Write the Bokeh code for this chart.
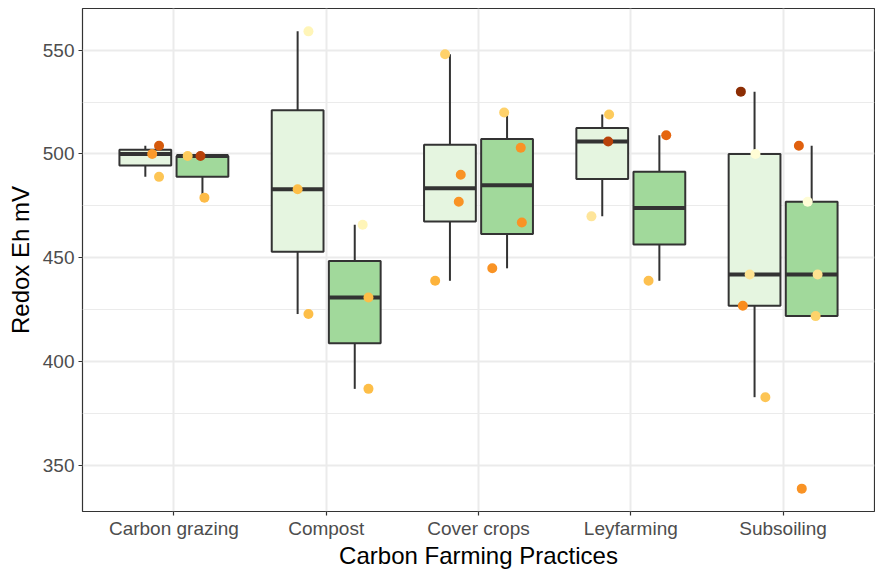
import numpy as np
from bokeh.plotting import figure
from bokeh.models import Range1d, FixedTicker, ColumnDataSource
from bokeh.embed import file_html
from bokeh.resources import INLINE

# ---------------- data ----------------
practices = ["Carbon grazing", "Compost", "Cover crops", "Leyfarming", "Subsoiling"]
groups = ["light", "dark"]

cg_light = [504, 500, 489]
cg_dark = [499, 499, 479]
compost_light = [559, 483, 423]
compost_dark = [466, 431, 387]
cover_light = [548, 490, 477, 439]
cover_dark = [520, 503, 467, 445]
ley_light = [519, 506, 470]
ley_dark = [509, 439]
sub_light = [530, 500, 442, 427, 383]
sub_dark = [504, 477, 442, 422, 339]

# colour of each observation (sequential yellow-orange-brown scale)
cg_light_col = ["#D55A0C", "#FB9A2A", "#FDC555"]
cg_dark_col = ["#FDCB5C", "#B8420A", "#FDBB47"]
compost_light_col = ["#FFF5B8", "#FDBE48", "#FDBE48"]
compost_dark_col = ["#FFF5B8", "#FDBE48", "#FDBE48"]
cover_light_col = ["#FED16A", "#F99325", "#F99325", "#FDB33C"]
cover_dark_col = ["#FED16A", "#F99325", "#F99325", "#F99325"]
ley_light_col = ["#FDCB5C", "#B8420A", "#FEE59A"]
ley_dark_col = ["#E5650F", "#FDC04F"]
sub_light_col = ["#8C2D04", "#FFFDD6", "#FEE391", "#F98C1E", "#FDC555"]
sub_dark_col = ["#E0600E", "#FFFDD6", "#FEE391", "#FDD36B", "#F99325"]

# horizontal jitter of each observation (category units)
cg_light_jit = [0.09, 0.045, 0.09]
cg_dark_jit = [-0.097, -0.013, 0.013]
compost_light_jit = [0.071, 0.0, 0.071]
compost_dark_jit = [0.052, 0.09, 0.09]
cover_light_jit = [-0.032, 0.071, 0.058, -0.097]
cover_dark_jit = [-0.019, 0.09, 0.097, -0.097]
ley_light_jit = [0.045, 0.039, -0.071]
ley_dark_jit = [0.045, -0.071]
sub_light_jit = [-0.09, 0.006, -0.032, -0.077, 0.071]
sub_dark_jit = [-0.084, -0.026, 0.039, 0.026, -0.065]

values = {
    ("Carbon grazing", "light"): (cg_light, cg_light_col, cg_light_jit),
    ("Carbon grazing", "dark"): (cg_dark, cg_dark_col, cg_dark_jit),
    ("Compost", "light"): (compost_light, compost_light_col, compost_light_jit),
    ("Compost", "dark"): (compost_dark, compost_dark_col, compost_dark_jit),
    ("Cover crops", "light"): (cover_light, cover_light_col, cover_light_jit),
    ("Cover crops", "dark"): (cover_dark, cover_dark_col, cover_dark_jit),
    ("Leyfarming", "light"): (ley_light, ley_light_col, ley_light_jit),
    ("Leyfarming", "dark"): (ley_dark, ley_dark_col, ley_dark_jit),
    ("Subsoiling", "light"): (sub_light, sub_light_col, sub_light_jit),
    ("Subsoiling", "dark"): (sub_dark, sub_dark_col, sub_dark_jit),
}

# ---------------- styles ----------------
box_fill = {"light": "#E5F5E0", "dark": "#A1D99B"}
dodge = {"light": -0.1875, "dark": 0.1875}
box_w = 0.34
ink = "#333333"
grid_col = "#EBEBEB"
FONT = "Liberation Sans"

# ---------------- stats ----------------
bx, bq1, bq3, bmed, blo, bhi, bfill = [], [], [], [], [], [], []
px, py, pc = [], [], []
for i, cat in enumerate(practices, start=1):
    for g in groups:
        v, cols, jit = values[(cat, g)]
        a = np.array(v, dtype=float)
        q1, med, q3 = np.percentile(a, [25, 50, 75])
        iqr = q3 - q1
        lo = a[a >= q1 - 1.5 * iqr].min()
        hi = a[a <= q3 + 1.5 * iqr].max()
        xc = i + dodge[g]
        bx.append(xc); bq1.append(q1); bq3.append(q3); bmed.append(med)
        blo.append(lo); bhi.append(hi); bfill.append(box_fill[g])
        for val, c, j in zip(v, cols, jit):
            px.append(xc + j); py.append(val); pc.append(c)

box_src = ColumnDataSource(dict(x=bx, q1=bq1, q3=bq3, med=bmed, lo=blo, hi=bhi,
                                fill=bfill,
                                x0=[x - box_w / 2 for x in bx],
                                x1=[x + box_w / 2 for x in bx]))
pt_src = ColumnDataSource(dict(x=px, y=py, c=pc))

# ---------------- figure ----------------
p = figure(width=875, height=571, output_backend="svg", toolbar_location=None,
           x_range=Range1d(0.4, 5.6), y_range=Range1d(328, 570),
           min_border_left=82, min_border_right=1, min_border_top=8, min_border_bottom=40)

p.background_fill_color = "white"
p.border_fill_color = "white"
p.outline_line_color = ink
p.outline_line_width = 1.2

# whiskers
p.segment(x0="x", y0="q3", x1="x", y1="hi", source=box_src, line_color=ink, line_width=2)
p.segment(x0="x", y0="q1", x1="x", y1="lo", source=box_src, line_color=ink, line_width=2)
# boxes
p.quad(left="x0", right="x1", bottom="q1", top="q3", source=box_src,
       fill_color="fill", line_color=ink, line_width=2)
# medians
p.segment(x0="x0", y0="med", x1="x1", y1="med", source=box_src, line_color=ink, line_width=4)
# points
p.scatter(x="x", y="y", source=pt_src, size=10, fill_color="c", line_color=None)

# axes
p.xaxis.ticker = FixedTicker(ticks=list(range(1, len(practices) + 1)))
p.xaxis.major_label_overrides = {i: name for i, name in enumerate(practices, start=1)}
p.yaxis.ticker = FixedTicker(ticks=[350, 400, 450, 500, 550],
                             minor_ticks=[325, 375, 425, 475, 525, 575])
p.xaxis.axis_label = "Carbon Farming Practices"
p.yaxis.axis_label = "Redox Eh mV"

for ax in (p.xaxis[0], p.yaxis[0]):
    ax.axis_line_color = None
    ax.major_tick_line_color = ink
    ax.major_tick_line_width = 1.2
    ax.major_tick_out = 4
    ax.major_tick_in = 0
    ax.minor_tick_out = 0
    ax.minor_tick_in = 0
    ax.major_label_text_font = FONT
    ax.major_label_text_font_size = "19px"
    ax.major_label_text_color = "#4D4D4D"
    ax.axis_label_text_font = FONT
    ax.axis_label_text_font_size = "24px"
    ax.axis_label_text_font_style = "normal"
    ax.axis_label_text_color = "black"

p.xaxis.major_label_standoff = 2
p.xaxis.axis_label_standoff = 0
p.yaxis.major_label_standoff = 4
p.yaxis.axis_label_standoff = 6

p.xgrid.ticker = p.xaxis[0].ticker
p.xgrid.grid_line_color = grid_col
p.xgrid.grid_line_width = 2
p.ygrid.grid_line_color = grid_col
p.ygrid.grid_line_width = 2
p.ygrid.minor_grid_line_color = grid_col
p.ygrid.minor_grid_line_width = 1

open("out.html", "w").write(file_html(p, INLINE))
